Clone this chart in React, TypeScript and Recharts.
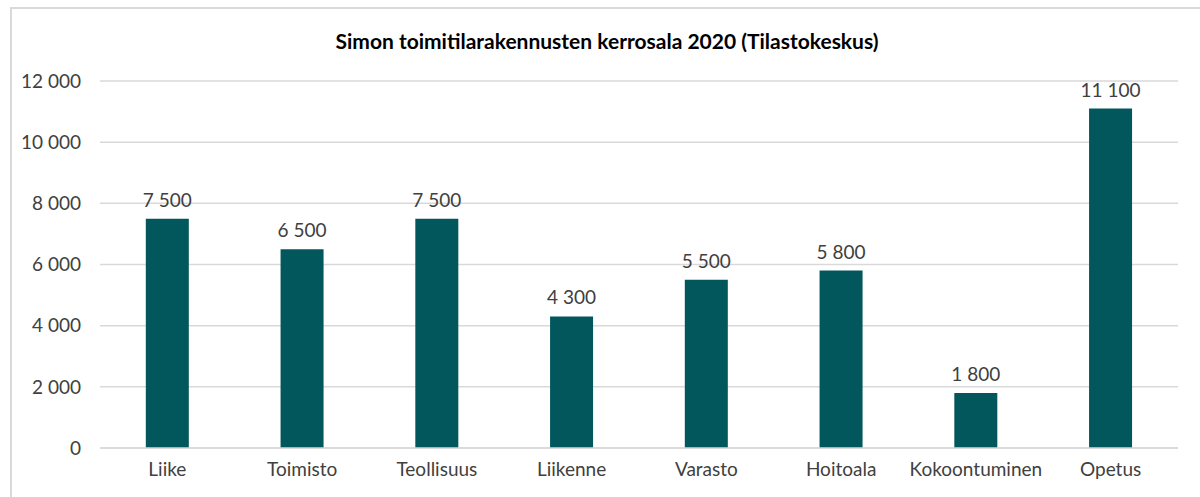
import { Bar, BarChart, CartesianGrid, LabelList, XAxis, YAxis } from "recharts";

const categories = [
  "Liike",
  "Toimisto",
  "Teollisuus",
  "Liikenne",
  "Varasto",
  "Hoitoala",
  "Kokoontuminen",
  "Opetus",
];
const values = [7500, 6500, 7500, 4300, 5500, 5800, 1800, 11100];
const yTicks = [0, 2000, 4000, 6000, 8000, 10000, 12000];

const data = categories.map((name, i) => ({ name, value: values[i] }));

const fmt = (v: number) => String(v).replace(/\B(?=(\d{3})+(?!\d))/g, " ");

const FONT = "Lato, 'Open Sans', sans-serif";
const TEXT = "#404040";

// value label above each bar, kept on one line
const renderValue = (props: any) => {
  const { x, y, width, value } = props;
  return (
    <text
      x={Number(x) + Number(width) / 2}
      y={Number(y) - 12}
      textAnchor="middle"
      fill={TEXT}
      fontSize={19}
      fontFamily={FONT}
    >
      {fmt(Number(value))}
    </text>
  );
};

export default function App() {
  return (
    <div
      style={{
        position: "absolute",
        left: 0,
        top: 0,
        width: 1200,
        height: 497,
        overflow: "hidden",
        background: "#fff",
        fontFamily: FONT,
      }}
    >
      <div
        style={{
          position: "absolute",
          left: 10,
          top: 7,
          width: 1210,
          height: 520,
          border: "2px solid #d9d9d9",
          boxSizing: "border-box",
        }}
      />
      <div
        style={{
          position: "absolute",
          left: 0,
          top: 28,
          width: 1214,
          textAlign: "center",
          fontSize: 21,
          fontWeight: 700,
          color: "#000",
        }}
      >
        Simon toimitilarakennusten kerrosala 2020 (Tilastokeskus)
      </div>
      <BarChart
        width={1200}
        height={497}
        data={data}
        margin={{ top: 81, right: 22, bottom: 19, left: 0 }}
        barCategoryGap="34%"
        style={{ position: "absolute", left: 0, top: 0 }}
      >
        <CartesianGrid vertical={false} stroke="#d9d9d9" strokeWidth={1.5} />
        <XAxis
          dataKey="name"
          height={30}
          axisLine={{ stroke: "#d9d9d9", strokeWidth: 1.5 }}
          tickLine={false}
          tickMargin={9}
          tick={{ fill: TEXT, fontSize: 19, fontFamily: FONT }}
          interval={0}
        />
        <YAxis
          width={100}
          domain={[0, 12000]}
          ticks={yTicks}
          tickFormatter={fmt}
          axisLine={false}
          tickLine={false}
          tickMargin={13}
          tick={{ fill: TEXT, fontSize: 19, fontFamily: FONT }}
        />
        <Bar dataKey="value" fill="#02575c" isAnimationActive={false}>
          <LabelList dataKey="value" content={renderValue} />
        </Bar>
      </BarChart>
    </div>
  );
}
